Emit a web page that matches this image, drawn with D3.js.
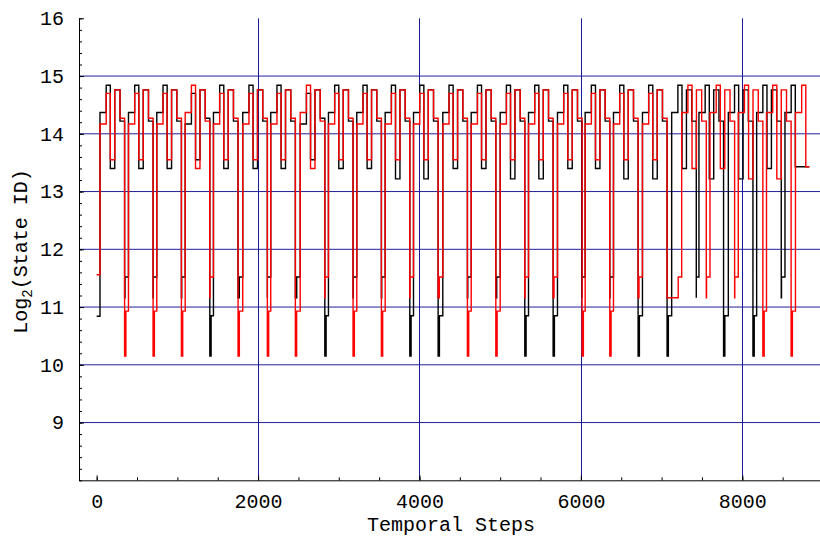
<!DOCTYPE html>
<html><head><meta charset="utf-8">
<script src="https://cdn.jsdelivr.net/npm/d3@7"></script>
<style>body{margin:0;background:#fff}svg{display:block}</style>
</head><body>
<svg id="c" width="820" height="540"></svg>
<script>
// ---------------- data ----------------
// step at which each cycle of the black series rises
const blackRise = [41,394,745,1097,1447,1810,2157,2522,2872,3223,3575,3926,4289,4641,5000,5351,5710,6053,6404,6763,7125,7463,7827,8178,8529];
// step at which each cycle of the red series rises
const redRise   = [41,394,745,1097,1447,1810,2157,2522,2872,3223,3575,3926,4289,4641,5000,5351,5710,6053,6404,6763,7249,7600,7950,8300,8659];
// upper pattern of each cycle: H = high variant, L = low variant
const blackUpper = ["H","H","H","L","H","H","H","L","H","H","H","H","H","H","H","H","H","H","H","H","H","H","H","H","H"];
const redUpper   = ["L","L","L","H","L","L","L","H","L","L","L","L","L","L","L","L","L","L","L","L","H","H","H","H","H"];
// low part of each cycle: D = deep dip, S = shallow, E = series ends
const blackLow = ["S","S","S","D","S","S","S","D","S","S","D","D","S","S","D","D","S","S","D","D","S","D","D","S","E"];
const redLow   = ["D","D","D","S","D","D","D","S","D","D","S","S","D","D","S","S","D","D","S","S","S","S","D","D","E"];
// levels of the five upper plateaus (A, B, C, D, E)
const levelsH = [14.37, 14.84, 13.40, 14.76, 14.22];
const levelsL = [14.17, 14.70, 13.55, 14.76, 14.27];
const levelCDeep = 13.22;           // C plateau of H cycles that end in a deep dip
const phaseSteps = [0, 77, 128, 183, 248, 305]; // steps after rise: A, B, C, D, E, low
const dipLevel = 10.15, dipSteps = 16;
const afterDip = {black: 10.85, red: 10.93};
const shallowLevels = [11.16, 11.52], shallowTail = 43;
const startLevel = {black: 10.84, red: 11.56};
const endLevel = 13.43, endStep = 8830;

const xTicks = [0, 2000, 4000, 6000, 8000];
const yTicks = [9, 10, 11, 12, 13, 14, 15, 16];
const xGrid = [2000, 4000, 6000, 8000];
const yGrid = [9, 10, 11, 12, 13, 14, 15];

// ---------------- chart ----------------
const svg = d3.select("#c");
const x = d3.scaleLinear().domain([-219, 8963]).range([79, 820]);
const y = d3.scaleLinear().domain([8, 16]).range([480.3, 18.3]);
const FONT = "'Liberation Mono', 'DejaVu Sans Mono', monospace";

function build(name, rise, upper, low) {
  const pts = [[0, startLevel[name]]];
  for (let i = 0; i < rise.length; i++) {
    const R = rise[i];
    const lv = upper[i] === "H" ? levelsH : levelsL;
    const next = i + 1 < rise.length ? rise[i + 1] : endStep;
    if (low[i] === "E") {
      pts.push([R, lv[0]], [R + phaseSteps[1], lv[1]], [R + phaseSteps[2], endLevel], [endStep, endLevel]);
      continue;
    }
    const c = (upper[i] === "H" && low[i] === "D") ? levelCDeep : lv[2];
    pts.push([R, lv[0]], [R + phaseSteps[1], lv[1]], [R + phaseSteps[2], c],
             [R + phaseSteps[3], lv[3]], [R + phaseSteps[4], lv[4]]);
    const L0 = R + phaseSteps[5];
    if (low[i] === "D") {
      pts.push([L0, dipLevel], [L0 + dipSteps, afterDip[name]]);
    } else {
      pts.push([L0, shallowLevels[0]], [Math.max(L0, next - shallowTail), shallowLevels[1]]);
    }
  }
  return pts;
}

// grid
svg.append("g").selectAll("line").data(yGrid).join("line")
  .attr("x1", 79).attr("x2", 820).attr("y1", d => y(d)).attr("y2", d => y(d))
  .attr("stroke", "#20209a").attr("stroke-width", 1);
svg.append("g").selectAll("line").data(xGrid).join("line")
  .attr("x1", d => Math.round(x(d)) + 0.5).attr("x2", d => Math.round(x(d)) + 0.5)
  .attr("y1", 18.3).attr("y2", 480.3)
  .attr("stroke", "#1a1a9a").attr("stroke-width", 1);

// series
const line = d3.line().x(d => x(d[0])).y(d => y(d[1])).curve(d3.curveStepAfter);
svg.append("path").datum(build("black", blackRise, blackUpper, blackLow))
  .attr("d", line).attr("fill", "none").attr("stroke", "#000").attr("stroke-width", 1.4);
svg.append("path").datum(build("red", redRise, redUpper, redLow))
  .attr("d", line).attr("fill", "none").attr("stroke", "#ff0000").attr("stroke-width", 1.4);

// axes
const yMinor = d3.range(8, 16.001, 0.2).map(v => +v.toFixed(1));
const xMinor = d3.range(0, 8501, 500);
svg.append("g").attr("transform", "translate(79,0)")
  .call(d3.axisLeft(y).tickValues(yMinor).tickSizeInner(-3).tickSizeOuter(0).tickFormat(""))
  .call(g => g.selectAll(".tick line").attr("stroke", "#000"));
svg.append("g").attr("transform", "translate(79,0)")
  .call(d3.axisLeft(y).tickValues(yTicks).tickSizeInner(-5).tickSizeOuter(0).tickPadding(15).tickFormat(d3.format("d")))
  .call(g => g.select(".domain").attr("stroke", "#000"))
  .call(g => g.selectAll("text").attr("font-family", FONT).attr("font-size", 20).attr("fill", "#000"));
svg.append("g").attr("transform", "translate(0,480.3)")
  .call(d3.axisBottom(x).tickValues(xMinor).tickSizeInner(-3).tickSizeOuter(0).tickFormat(""))
  .call(g => g.select(".domain").remove());
svg.append("g").attr("transform", "translate(0,480.3)")
  .call(d3.axisBottom(x).tickValues(xTicks).tickSizeInner(-5).tickSizeOuter(0).tickPadding(13.5).tickFormat(d3.format("d")))
  .call(g => g.select(".domain").attr("stroke", "#000"))
  .call(g => g.selectAll("text").attr("font-family", FONT).attr("font-size", 20).attr("fill", "#000"));

// titles
svg.append("text").attr("x", 451).attr("y", 531).attr("text-anchor", "middle")
  .attr("font-family", FONT).attr("font-size", 20).text("Temporal Steps");
const yt = svg.append("text").attr("transform", "translate(27,251.5) rotate(-90)")
  .attr("text-anchor", "middle").attr("font-family", FONT).attr("font-size", 20);
yt.append("tspan").text("Log");
yt.append("tspan").attr("font-size", 14).attr("dy", 5).text("2");
yt.append("tspan").attr("dy", -5).text("(State ID)");
</script>
</body></html>
